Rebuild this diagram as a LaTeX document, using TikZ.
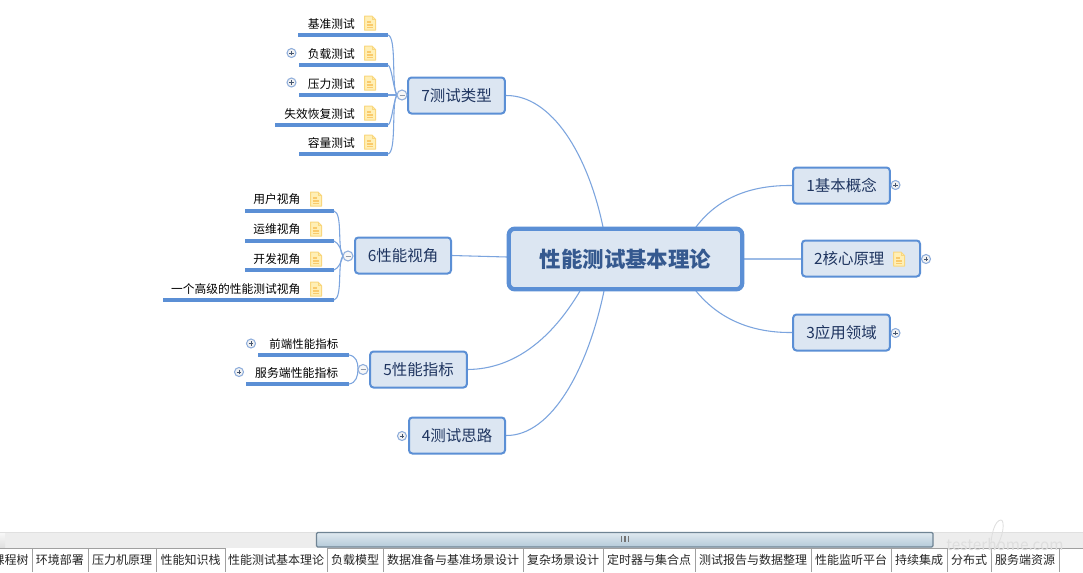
\documentclass[tikz,border=0pt]{standalone}
\usepackage{fontspec}
\setmainfont{Noto Sans CJK SC}
\definecolor{boxfill}{HTML}{DCE6F2}
\definecolor{boxline}{HTML}{5B8FD5}
\definecolor{curveline}{HTML}{7BA4DE}
\definecolor{topictext}{HTML}{1F3560}
\definecolor{roottext}{HTML}{35598F}
\definecolor{notefill}{HTML}{FFEFB5}
\definecolor{noteline}{HTML}{F9D77E}
\definecolor{tabline}{HTML}{A0A0A0}
\definecolor{thumbtop}{HTML}{DFE9F0}
\definecolor{thumbbot}{HTML}{B4CAD9}
\definecolor{thumbline}{HTML}{6F8494}
\definecolor{iconline}{HTML}{8FAEDC}
\definecolor{iconmark}{HTML}{44556F}
\tikzset{
  topicbox/.style={draw=boxline,fill=boxfill,line width=1.5pt,rounded corners=2.5pt,
    minimum height=27pt,inner sep=0pt,text=topictext,font=\fontsize{11.6pt}{14pt}\selectfont},
  rootbox/.style={draw=boxline,fill=boxfill,line width=3.2pt,rounded corners=4.5pt,
    minimum width=175pt,minimum height=45.5pt,inner sep=0pt,text=roottext,
    font=\fontsize{16.1pt}{19pt}\selectfont\bfseries},
  leaflabel/.style={inner sep=0pt,text=black,font=\fontsize{8.8pt}{11pt}\selectfont},
  tablabel/.style={inner sep=0pt,text=black!85,font=\fontsize{9pt}{11pt}\selectfont},
  leafline/.style={draw=boxline,line width=2.5pt},
  branch/.style={draw=curveline,line width=0.8pt},
  tabsep/.style={draw=tabline,line width=0.75pt},
  pics/noteicon/.style={code={
    \draw[noteline,fill=notefill,line width=0.75pt,line join=round]
      (-5.5,-7)--(2,-7)--(5.5,-3.5)--(5.5,7)--(-5.5,7)--cycle;
    \draw[noteline,line width=0.6pt] (2,-7)--(2,-3.5)--(5.5,-3.5);
    \draw[noteline!85!orange,line width=0.8pt] (-3,-1)--(1,-1) (-3,2)--(3.2,2) (-3,4.6)--(3.2,4.6);
  }},
  pics/plusicon/.style={code={
    \draw[iconline,fill=black!5,line width=0.8pt] (0,0) circle (4.5);
    \draw[iconmark,line width=0.75pt] (-2.2,0)--(2.2,0) (0,-2.2)--(0,2.2);
  }},
  pics/minusicon/.style={code={
    \draw[iconline,fill=black!3,line width=0.8pt] (0,0) circle (5);
    \draw[iconmark!60,line width=0.75pt] (-2.5,0)--(2.5,0);
  }}
}
\begin{document}
\begin{tikzpicture}[x=0.75pt,y=-0.75pt]
\useasboundingbox (0,0) rectangle (1083,572);
\fill[white] (0,0) rectangle (1083,572);

% anchors on the root for branches
\coordinate (r7) at (603,227);
\coordinate (r1) at (696,227);
\coordinate (r2) at (744,259);
\coordinate (r3) at (696,291);
\coordinate (r6) at (507,257);
\coordinate (r5) at (580,291);
\coordinate (r4) at (604,291);

% topic nodes
\node[topicbox,minimum width=72.5pt] (t7) at (456.5,95.5) {7测试类型};
\node[topicbox,minimum width=72.5pt] (t1) at (841.5,185.5) {1基本概念};
\node[topicbox,minimum width=88.5pt,text width=88.5pt,align=left] (t2) at (861,258.5) {\hspace*{9pt}2核心原理};
\node[topicbox,minimum width=72.5pt] (t3) at (841.5,332.5) {3应用领域};
\node[topicbox,minimum width=72pt] (t6) at (403,255.5) {6性能视角};
\node[topicbox,minimum width=72.5pt] (t5) at (418.5,369.5) {5性能指标};
\node[topicbox,minimum width=72pt] (t4) at (457,435.5) {4测试思路};

% branches from the root
\draw[branch] (r7) .. controls (588,155) and (552,95) .. (t7.east);
\draw[branch] (r1) .. controls (718,198) and (750,185) .. (t1.west);
\draw[branch,draw=curveline!75,line width=1.4pt] (r2) -- (r2-|t2.west);
\draw[branch] (r3) .. controls (718,318) and (750,333) .. (t3.west);
\draw[branch] (t6.east) -- (r6);
\draw[branch] (r5) .. controls (552,338) and (515,369) .. (t5.east);
\draw[branch] (r4) .. controls (588,368) and (552,436) .. (t4.east);

\node[rootbox] (root) at (625.5,259) {性能测试基本理论};

% group 7
\coordinate (j7) at (397,95);
\foreach \nm/\y/\xa in {a/35/298,b/65/299,c/95/299,d/125/275,e/154/299}{
  \coordinate (s\nm) at (\xa,\y);
  \coordinate (e\nm) at (388,\y);
  \draw[leafline] (s\nm) -- (e\nm);
}
\draw[branch] (ea) .. controls (397,37) and (391,88) .. (j7);
\draw[branch] (eb) .. controls (392,67) and (393,88) .. (j7);
\draw[branch] (ec) -- (j7);
\draw[branch] (ed) .. controls (392,123) and (393,102) .. (j7);
\draw[branch] (ee) .. controls (397,152) and (391,102) .. (j7);
\node[leaflabel,anchor=east] (l71) at (355,24.5) {基准测试};
\node[leaflabel,anchor=east] (l72) at (355,54) {负载测试};
\node[leaflabel,anchor=east] (l73) at (355,84) {压力测试};
\node[leaflabel,anchor=east] (l74) at (355,114) {失效恢复测试};
\node[leaflabel,anchor=east] (l75) at (355,143) {容量测试};
\foreach \y in {23,53,83,113,142}{\pic at (370,\y) {noteicon};}
\pic at (291.5,53) {plusicon};
\pic at (291.5,82.5) {plusicon};
\pic at (402,95) {minusicon};

% group 6
\coordinate (j6) at (343,256);
\foreach \nm/\y/\xa in {f/211/245,g/241/245,h/270/245,i/300/163}{
  \coordinate (s\nm) at (\xa,\y);
  \coordinate (e\nm) at (334,\y);
  \draw[leafline] (s\nm) -- (e\nm);
}
\draw[branch] (ef) .. controls (343,213) and (337,250) .. (j6);
\draw[branch] (eg) .. controls (339,243) and (341,250) .. (j6);
\draw[branch] (eh) .. controls (339,268) and (341,262) .. (j6);
\draw[branch] (ei) .. controls (343,298) and (337,262) .. (j6);
\node[leaflabel,anchor=east] (l61) at (300.5,199.5) {用户视角};
\node[leaflabel,anchor=east] (l62) at (300.5,229.5) {运维视角};
\node[leaflabel,anchor=east] (l63) at (300.5,259.5) {开发视角};
\node[leaflabel,anchor=east] (l64) at (300.5,289.5) {一个高级的性能测试视角};
\foreach \y in {199,229,259,289}{\pic at (316,\y) {noteicon};}
\pic at (348,256) {minusicon};

% group 5
\coordinate (j5) at (358,369);
\coordinate (sj) at (258,355); \coordinate (ej) at (349,355);
\coordinate (sk) at (246,384); \coordinate (ek) at (349,384);
\draw[leafline] (sj) -- (ej);
\draw[leafline] (sk) -- (ek);
\draw[branch] (ej) .. controls (356,356) and (358,362) .. (j5);
\draw[branch] (ek) .. controls (356,383) and (358,376) .. (j5);
\node[leaflabel,anchor=east,font=\fontsize{8.6pt}{11pt}\selectfont] (l51) at (338.5,344) {前端性能指标};
\node[leaflabel,anchor=east,font=\fontsize{8.9pt}{11pt}\selectfont] (l52) at (338.5,372.5) {服务端性能指标};
\pic at (251,343.5) {plusicon};
\pic at (239,372) {plusicon};
\pic at (363,369.5) {minusicon};

% other icons
\pic at (402,436) {plusicon};
\pic at (895.5,185) {plusicon};
\pic at (899,259) {noteicon};
\pic at (926,259) {plusicon};
\pic at (895.5,333) {plusicon};

% scrollbar
\fill[black!7] (0,532) rectangle (1083,548);
\draw[black!12,line width=0.75pt] (0,532) -- (1083,532);
\shade[top color=black!3,bottom color=black!12] (0,533) rectangle (5,547);
\draw[draw=thumbline,line width=0.9pt,top color=thumbtop,bottom color=thumbbot,rounded corners=1pt] (316.5,532.5) rectangle (933,547);
\draw[black!55,line width=0.8pt] (621.5,536) -- (621.5,542) (625,536) -- (625,542) (628.5,536) -- (628.5,542);

% tab strip
\draw[tabline,line width=0.75pt] (0,548) -- (225,548) (327,548) -- (1083,548);
\foreach \x in {32,88,156,225,327,383,523,603,695,811,891,947,991,1059}{
  \draw[tabsep] (\x,548) -- (\x,572);
}
\begin{scope}
\clip (0,548) rectangle (32,572);
\node[tablabel,anchor=east] (tab0) at (29,560) {课程树};
\end{scope}
\node[tablabel] (tab1) at (60,560) {环境部署};
\node[tablabel] (tab2) at (122,560) {压力机原理};
\node[tablabel] (tab3) at (190.5,560) {性能知识栈};
\node[tablabel] (tab4) at (276,560) {性能测试基本理论};
\node[tablabel] (tab5) at (355,560) {负载模型};
\node[tablabel] (tab6) at (453,560) {数据准备与基准场景设计};
\node[tablabel] (tab7) at (563,560) {复杂场景设计};
\node[tablabel] (tab8) at (649,560) {定时器与集合点};
\node[tablabel] (tab9) at (753,560) {测试报告与数据整理};
\node[tablabel] (tab10) at (851,560) {性能监听平台};
\node[tablabel] (tab11) at (919,560) {持续集成};
\node[tablabel] (tab12) at (969,560) {分布式};
\node[tablabel] (tab13) at (1025,560) {服务端资源};

% watermark
\node[inner sep=0pt,text=black!13,font=\fontsize{11.5pt}{13pt}\selectfont\itshape] (mark) at (1005,544.5) {testerhome.com};
\draw[black!13,line width=0.6pt] (991,553) .. controls (990,535) and (995,520) .. (1001,520) .. controls (1005,520) and (1004,538) .. (994,550);
\end{tikzpicture}
\end{document}
